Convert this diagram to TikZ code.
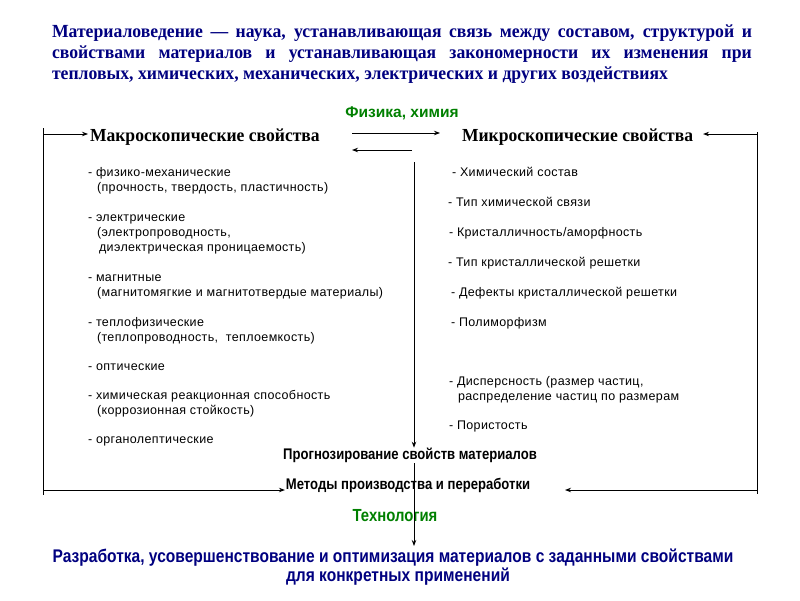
\documentclass[tikz,border=0pt]{standalone}
\usepackage{fontspec}
\setmainfont{Liberation Serif}
\setsansfont{Liberation Sans}
\newfontfamily\narrowsans[FakeStretch=0.85]{Liberation Sans}
\newfontfamily\narrowserif[FakeStretch=0.955]{Liberation Serif}
\newfontfamily\spacedsans[LetterSpace=3]{Liberation Sans}
\usetikzlibrary{arrows.meta}
\definecolor{navy}{RGB}{0,0,128}
\definecolor{dgreen}{RGB}{0,128,0}
\begin{document}
\begin{tikzpicture}[x=1pt,y=-1pt,
  every node/.style={inner sep=0pt, outer sep=0pt},
  titletext/.style={font=\narrowserif\bfseries\fontsize{18.5}{21}\selectfont, text=navy, text width=700pt, align=justify, anchor=north west},
  head/.style={font=\narrowserif\bfseries\fontsize{18.4}{20}\selectfont, anchor=base west},
  item/.style={font=\spacedsans\fontsize{12.5}{14}\selectfont, anchor=base west},
  greenlbl/.style={font=\sffamily\bfseries\fontsize{15.5}{17}\selectfont, text=dgreen},
  boldlbl/.style={font=\narrowsans\bfseries\fontsize{15.4}{17}\selectfont},
  reslbl/.style={font=\narrowsans\bfseries\fontsize{18.3}{20}\selectfont, text=navy},
  conn/.style={line width=0.9pt},
  arr/.style={conn, -{Stealth[length=6pt,width=4.5pt]}}]
\fill[white] (0,0) rectangle (800,600);
\useasboundingbox (0,0) rectangle (800,600);

\node[titletext] (title) at (52,25) {Материаловедение — наука, устанавливающая связь между составом, структурой и\linebreak свойствами материалов и устанавливающая закономерности их изменения при\linebreak тепловых, химических, механических, электрических и других воздействиях};

\node[greenlbl] (phys) at (402,113) {Физика, химия};
\node[head] (macro) at (90,141) {Макроскопические свойства};
\node[head] (micro) at (462,141) {Микроскопические свойства};

% left list
\node[item] (l1)  at (88,176) {- физико-механические};
\node[item] (l1b) at (97,191) {(прочность, твердость, пластичность)};
\node[item] (l2)  at (88,221) {- электрические};
\node[item] (l2b) at (97,236) {(электропроводность,};
\node[item] (l2c) at (99,251) {диэлектрическая проницаемость)};
\node[item] (l3)  at (88,281) {- магнитные};
\node[item] (l3b) at (97,296) {(магнитомягкие и магнитотвердые материалы)};
\node[item] (l4)  at (88,326) {- теплофизические};
\node[item] (l4b) at (97,341) {(теплопроводность,\ \ теплоемкость)};
\node[item] (l5)  at (88,370) {- оптические};
\node[item] (l6)  at (88,399) {- химическая реакционная способность};
\node[item] (l6b) at (97,414) {(коррозионная стойкость)};
\node[item] (l7)  at (88,443) {- органолептические};

% right list
\node[item] (r1)  at (452,176) {- Химический состав};
\node[item] (r2)  at (448,206) {- Тип химической связи};
\node[item] (r3)  at (449,236) {- Кристалличность/аморфность};
\node[item] (r4)  at (448,266) {- Тип кристаллической решетки};
\node[item] (r5)  at (451,296) {- Дефекты кристаллической решетки};
\node[item] (r6)  at (451,326) {- Полиморфизм};
\node[item] (r7)  at (449,385) {- Дисперсность (размер частиц,};
\node[item] (r7b) at (458,400) {распределение частиц по размерам};
\node[item] (r8)  at (449,429) {- Пористость};

\node[boldlbl] (prog) at (410,455) {Прогнозирование свойств материалов};
\node[boldlbl] (meth) at (408,485) {Методы производства и переработки};
\node[greenlbl, font=\narrowsans\bfseries\fontsize{17.5}{19}\selectfont] (tech) at (395,516) {Технология};
\node[reslbl] (res1) at (393,558) {Разработка, усовершенствование и оптимизация материалов с заданными свойствами};
\node[reslbl] (res2) at (398,577) {для конкретных применений};

% coordinates
\coordinate (ltop) at (43,128);
\coordinate (lbot) at (43,495);
\coordinate (lt) at (43,134);
\coordinate (lb) at (43,490);
\coordinate (rtop) at (757,132);
\coordinate (rbot) at (757,494);
\coordinate (rt) at (757,134);
\coordinate (rb) at (757,490);
\coordinate (rbtip) at (565,490);
\coordinate (m1s) at (352,133);
\coordinate (m1e) at (440,133);
\coordinate (m2s) at (412,150);
\coordinate (m2e) at (352,150);
\coordinate (vtop) at (414,162);
\coordinate (vmid) at (414,463);
\coordinate (vtip) at (414,546);

% connectors
\draw[conn] (ltop) -- (lbot);
\draw[arr, shorten >=2pt] (lt) -- (lt -| macro.west);
\draw[arr, shorten >=1pt] (lb) -- (lb -| meth.west);
\draw[conn] (rtop) -- (rbot);
\draw[arr, shorten >=10pt] (rt) -- (rt -| micro.east);
\draw[arr] (rb) -- (rbtip);
\draw[arr] (m1s) -- (m1e);
\draw[arr] (m2s) -- (m2e);
\draw[arr] (vtop) -- (vtop |- prog.north);
\draw[arr] (vmid) -- (vtip);
\end{tikzpicture}
\end{document}
